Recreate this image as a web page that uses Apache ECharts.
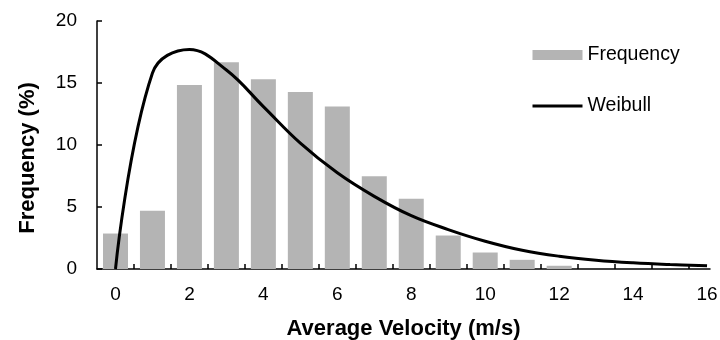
<!DOCTYPE html>
<html>
<head>
<meta charset="utf-8">
<script src="https://cdn.jsdelivr.net/npm/echarts@6/dist/echarts.min.js"></script>
<style>
  html, body { margin: 0; padding: 0; background: #fff; }
  #chart { width: 720px; height: 340px; }
</style>
</head>
<body>
<div id="chart"></div>
<script>
// wind speed bins (m/s)
const velocity = [0, 1, 2, 3, 4, 5, 6, 7, 8, 9, 10, 11, 12, 13, 14, 15, 16];
// measured frequency (%)
const frequency = [2.86, 4.7, 14.84, 16.67, 15.3, 14.28, 13.1, 7.47, 5.67, 2.7, 1.33, 0.74, 0.26, 0, 0, 0, 0];
// fitted weibull (%)
const weibull = [0, 15.8, 17.7, 16.05, 13.1, 10.15, 7.76, 5.86, 4.3, 3.18, 2.24, 1.51, 1.03, 0.71, 0.5, 0.36, 0.26];
const xTickLabels = [0, 2, 4, 6, 8, 10, 12, 14, 16];
const xTickMarks = [0.5, 1.5, 2.5, 3.5, 4.5, 5.5, 6.5, 7.5, 8.5, 9.5, 10.5, 11.5, 12.5, 13.5, 14.5, 15.5];

const font = 'Liberation Sans, Arial, sans-serif';
const myChart = echarts.init(document.getElementById('chart'));

myChart.setOption({
	animation: false,
	textStyle: {fontFamily: font},
	grid: {
		left: 97,
		right: 10,
		top: 21,
		bottom: 71,
		outerBoundsMode: 'none',
		containLabel: false
	},
	legend: {
		orient: 'vertical',
		left: 526,
		top: 40,
		itemGap: 31,
		itemWidth: 50,
		itemHeight: 10,
		textStyle: {fontSize: 19.5, color: '#000', fontFamily: font},
		data: [
			{name: 'Frequency', icon: 'rect'},
			{name: 'Weibull', itemStyle: {opacity: 0}, lineStyle: {width: 3, color: '#000'}}
		]
	},
	xAxis: {
		type: 'value',
		min: -0.5,
		max: 16.08,
		name: 'Average Velocity (m/s)',
		nameLocation: 'middle',
		nameGap: 49,
		nameTextStyle: {fontSize: 22, fontWeight: 'bold', color: '#000', fontFamily: font},
		axisLine: {lineStyle: {color: '#000', width: 1.5}},
		axisTick: {show: true, inside: true, length: 5, customValues: xTickMarks, lineStyle: {color: '#000', width: 1.5}},
		axisLabel: {customValues: xTickLabels, fontSize: 19, color: '#000', margin: 16, fontFamily: font},
		splitLine: {show: false}
	},
	yAxis: {
		type: 'value',
		min: 0,
		max: 20,
		interval: 5,
		name: 'Frequency (%)',
		nameLocation: 'middle',
		nameGap: 58,
		nameTextStyle: {fontSize: 22, fontWeight: 'bold', color: '#000', fontFamily: font, padding: [0, 26, 0, 0]},
		axisLine: {show: true, onZero: false, lineStyle: {color: '#000', width: 1.5}},
		axisTick: {show: true, inside: true, length: 5, lineStyle: {color: '#000', width: 1.5}},
		axisLabel: {fontSize: 19, color: '#000', margin: 20, fontFamily: font},
		splitLine: {show: false}
	},
	series: [
		{
			name: 'Frequency',
			type: 'bar',
			barWidth: 25,
			itemStyle: {color: '#b4b4b4'},
			data: velocity.map((v, i) => [v, frequency[i]])
		},
		{
			name: 'Weibull',
			type: 'line',
			smooth: 0.4,
			symbol: 'none',
			lineStyle: {color: '#000', width: 3},
			itemStyle: {color: '#000'},
			data: velocity.map((v, i) => [v, weibull[i]])
		}
	]
});
</script>
</body>
</html>
